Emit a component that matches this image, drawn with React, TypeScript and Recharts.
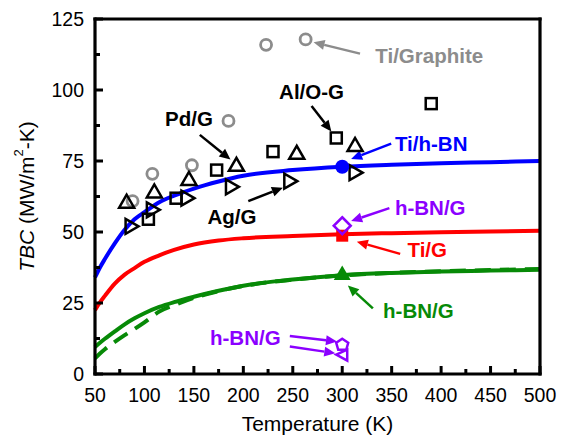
import React from 'react';
import { ComposedChart, Line, Scatter, XAxis, YAxis, ReferenceLine, ReferenceDot } from 'recharts';

const FONT = '"Liberation Sans", Arial, sans-serif';

// temperature grid for the model curves (K)
const temps = [50, 55, 60, 70, 80, 90, 100, 115, 130, 150, 175, 200, 250, 300, 350, 400, 450, 500];
const tiHbnCurve = [34, 37.5, 40.5, 46, 50.8, 54.5, 57, 60.5, 62.8, 65.3, 67.8, 69.8, 71.8, 73, 73.7, 74.2, 74.6, 75];
const tiGCurve = [22.5, 25.2, 27.5, 31.8, 35, 37.3, 39.5, 41.8, 43.7, 45.6, 47, 47.8, 48.6, 49.2, 49.6, 49.9, 50.2, 50.4];
const hbnGCurve = [9.5, 11, 12.4, 15, 17.5, 19.6, 21.4, 23.6, 25.3, 27.2, 29.3, 31.1, 33.3, 34.8, 35.6, 36.1, 36.4, 36.7];
const hbnGDashed = [5.5, 7.2, 8.7, 11.3, 13.7, 15.9, 18.2, 22, 24.2, 26.8, 29.2, 31, 33.2, 34.7, 35.6, 36.2, 36.6, 37];

// measured points
const tiGraphiteT = [88, 108, 148, 185, 223, 263];
const tiGraphiteV = [60.9, 70.5, 73.5, 89.1, 115.9, 117.8];
const alOGT = [104, 132, 173, 230, 294, 390];
const alOGV = [54.5, 61.9, 71.8, 78.3, 83.1, 95.2];
const pdGT = [82, 110, 145, 193, 254, 313];
const pdGV = [60.5, 64.1, 68.5, 73.5, 77.7, 80.5];
const agGT = [86.5, 108, 143, 188, 247, 313];
const agGV = [52, 57.8, 61.9, 65.9, 67.9, 70.9];
const tiHbnPoint = [{ x: 300, y: 73 }];
const tiGPoint = [{ x: 300, y: 48.7 }];
const hbnGPoint = [{ x: 300, y: 35.2 }];
const hbnGDiamond = [{ x: 300, y: 52.2 }];
const hbnGPentagon = [{ x: 300, y: 10.3 }];
const hbnGTriangle = [{ x: 300, y: 6.8 }];

const xTicks = [50, 75, 100, 125, 150, 175, 200, 225, 250, 275, 300, 325, 350, 375, 400, 425, 450, 475, 500];
const yTicks = [0, 12.5, 25, 37.5, 50, 62.5, 75, 87.5, 100, 112.5, 125];

// annotation labels and arrows (data coordinates)
const labels = [
  { x: 388, y: 112.3, text: 'Ti/Graphite', color: '#8c8c8c' },
  { x: 269, y: 99.6, text: 'Al/O-G', color: '#000' },
  { x: 145, y: 90.1, text: 'Pd/G', color: '#000' },
  { x: 188.5, y: 55.6, text: 'Ag/G', color: '#000' },
  { x: 390, y: 81, text: 'Ti/h-BN', color: '#0000ff' },
  { x: 389, y: 58.5, text: 'h-BN/G', color: '#8b00ff' },
  { x: 386, y: 44, text: 'Ti/G', color: '#ff0000' },
  { x: 377, y: 22.5, text: 'h-BN/G', color: '#078a07' },
  { x: 202, y: 12.7, text: 'h-BN/G', color: '#8b00ff' },
];
const arrows = [
  { from: [318, 112.8], to: [271, 116.8], color: '#8c8c8c' },
  { from: [269, 94.4], to: [289, 85.4], color: '#000' },
  { from: [156, 84.2], to: [187, 75.5], color: '#000' },
  { from: [205, 60.9], to: [240, 65.6], color: '#000' },
  { from: [349.5, 81.1], to: [309, 75.7], color: '#0000ff' },
  { from: [347.7, 58.4], to: [309, 53.9], color: '#8b00ff' },
  { from: [358.6, 42.3], to: [314.8, 46.6], color: '#ff0000' },
  { from: [331, 23.1], to: [305.7, 31.2], color: '#078a07' },
  { from: [247, 13.4], to: [294.7, 11.4], color: '#8b00ff' },
  { from: [247, 9.7], to: [293, 7.3], color: '#8b00ff' },
];

const zip = (t: number[], v: number[]) => t.map((x, i) => ({ x, y: v[i] }));
const curve = (v: number[]) => temps.map((x, i) => ({ x, y: v[i] }));

const XTick = ({ x, y, payload, top }: any) => {
  const major = payload.value % 50 === 0;
  const len = major ? 8 : 5;
  return (
    <g>
      <line x1={x} x2={x} y1={y} y2={top ? y + len : y - len} stroke="#000" strokeWidth={3} />
      {!top && major && (
        <text x={x} y={y + 21} textAnchor="middle" dominantBaseline="central" fontSize={19.5} fontFamily={FONT} fill="#000">
          {payload.value}
        </text>
      )}
    </g>
  );
};

const YTick = ({ x, y, payload, right }: any) => {
  const major = payload.value % 25 === 0;
  const len = major ? 8 : 5;
  return (
    <g>
      <line x1={x} x2={right ? x - len : x + len} y1={y} y2={y} stroke="#000" strokeWidth={3} />
      {!right && major && (
        <text x={x - 11} y={y} textAnchor="end" dominantBaseline="central" fontSize={19.5} fontFamily={FONT} fill="#000">
          {payload.value}
        </text>
      )}
    </g>
  );
};

const Arrow = (color: string) => (p: any) => {
  const { x1, y1, x2, y2 } = p;
  const dx = x2 - x1;
  const dy = y2 - y1;
  const len = Math.sqrt(dx * dx + dy * dy);
  const ux = dx / len;
  const uy = dy / len;
  const head = 11;
  const bx = x2 - ux * head;
  const by = y2 - uy * head;
  const w = 5;
  return (
    <g>
      <line x1={x1} y1={y1} x2={bx} y2={by} stroke={color} strokeWidth={2.5} />
      <polygon points={`${x2},${y2} ${bx - uy * w},${by + ux * w} ${bx + uy * w},${by - ux * w}`} fill={color} />
    </g>
  );
};

const Label = (text: string, color: string) => (p: any) => (
  <text x={p.cx} y={p.cy} textAnchor="middle" dominantBaseline="central" fontSize={20.5} fontWeight="bold" fontFamily={FONT} fill={color}>
    {text}
  </text>
);

const OpenCircle = ({ cx, cy }: any) => <circle cx={cx} cy={cy} r={5.5} fill="none" stroke="#8c8c8c" strokeWidth={2.8} />;
const OpenSquare = ({ cx, cy }: any) => <rect x={cx - 5.5} y={cy - 5.5} width={11} height={11} fill="none" stroke="#000" strokeWidth={2.5} />;
const OpenTriUp = ({ cx, cy }: any) => (
  <polygon points={`${cx},${cy - 7.5} ${cx - 7.5},${cy + 5.5} ${cx + 7.5},${cy + 5.5}`} fill="none" stroke="#000" strokeWidth={2.5} strokeLinejoin="miter" />
);
const OpenTriRight = ({ cx, cy }: any) => (
  <polygon points={`${cx + 7.5},${cy} ${cx - 5.5},${cy - 7.5} ${cx - 5.5},${cy + 7.5}`} fill="none" stroke="#000" strokeWidth={2.5} />
);
const BlueDot = ({ cx, cy }: any) => <circle cx={cx} cy={cy} r={7} fill="#0000ff" />;
const RedSquare = ({ cx, cy }: any) => <rect x={cx - 6} y={cy - 6} width={12} height={12} fill="#ff0000" />;
const GreenTri = ({ cx, cy }: any) => (
  <polygon points={`${cx},${cy - 8.5} ${cx - 8.5},${cy + 6} ${cx + 8.5},${cy + 6}`} fill="#078a07" />
);
const PurpleDiamond = ({ cx, cy }: any) => (
  <polygon points={`${cx},${cy - 8.5} ${cx + 8.5},${cy} ${cx},${cy + 8.5} ${cx - 8.5},${cy}`} fill="none" stroke="#8b00ff" strokeWidth={2.5} />
);
const PurplePentagon = ({ cx, cy }: any) => (
  <polygon
    points={`${cx},${cy - 6} ${cx + 6},${cy - 2} ${cx + 4},${cy + 5} ${cx - 4},${cy + 5} ${cx - 6},${cy - 2}`}
    fill="none"
    stroke="#8b00ff"
    strokeWidth={2.5}
  />
);
const PurpleTri = ({ cx, cy }: any) => (
  <polygon points={`${cx - 6},${cy} ${cx + 5},${cy - 5} ${cx + 5},${cy + 6}`} fill="none" stroke="#8b00ff" strokeWidth={2.5} />
);

const frame = { stroke: '#000', strokeWidth: 3.2, strokeLinecap: 'square' as const };

export default function App() {
  return (
    <div style={{ position: 'absolute', left: 0, top: 0, background: '#fff' }}>
      <ComposedChart width={565} height={438} margin={{ top: 18, right: 24, bottom: 63, left: 94 }}>
        <XAxis
          xAxisId={0}
          type="number"
          dataKey="x"
          domain={[50, 500]}
          ticks={xTicks}
          interval={0}
          height={1}
          tickSize={0}
          tickMargin={0}
          axisLine={frame}
          tickLine={false}
          tick={<XTick />}
          label={{
            content: (p: any) => (
              <text x={p.viewBox.x + p.viewBox.width / 2} y={p.viewBox.y + 49} textAnchor="middle" dominantBaseline="central" fontSize={21} fontFamily={FONT} fill="#000">
                Temperature (K)
              </text>
            ),
          }}
        />
        <XAxis xAxisId="top" orientation="top" type="number" domain={[50, 500]} ticks={xTicks} interval={0} height={1} tickSize={0} tickMargin={0} axisLine={frame} tickLine={false} tick={<XTick top />} />
        <YAxis
          yAxisId={0}
          type="number"
          domain={[0, 125]}
          ticks={yTicks}
          interval={0}
          width={1}
          tickSize={0}
          tickMargin={0}
          axisLine={frame}
          tickLine={false}
          tick={<YTick />}
          label={{
            content: (p: any) => {
              const cx = 26;
              const cy = p.viewBox.y + p.viewBox.height / 2;
              return (
                <text transform={`rotate(-90, ${cx}, ${cy})`} x={cx} y={cy} textAnchor="middle" dominantBaseline="central" fontSize={21} fontFamily={FONT} fill="#000">
                  <tspan fontStyle="italic">TBC</tspan> (MW/m<tspan dy={-8} fontSize={13}>2</tspan>
                  <tspan dy={8}>-K)</tspan>
                </text>
              );
            },
          }}
        />
        <YAxis yAxisId="right" orientation="right" type="number" domain={[0, 125]} ticks={yTicks} interval={0} width={1} tickSize={0} tickMargin={0} axisLine={frame} tickLine={false} tick={<YTick right />} />

        <Line data={curve(tiHbnCurve)} dataKey="y" type="monotone" stroke="#0000ff" strokeWidth={4} dot={false} isAnimationActive={false} />
        <Line data={curve(tiGCurve)} dataKey="y" type="monotone" stroke="#ff0000" strokeWidth={4} dot={false} isAnimationActive={false} />
        <Line data={curve(hbnGDashed)} dataKey="y" type="monotone" stroke="#078a07" strokeWidth={4} strokeDasharray="16 9" dot={false} isAnimationActive={false} />
        <Line data={curve(hbnGCurve)} dataKey="y" type="monotone" stroke="#078a07" strokeWidth={4} dot={false} isAnimationActive={false} />

        <Scatter data={zip(tiGraphiteT, tiGraphiteV)} dataKey="y" shape={OpenCircle} isAnimationActive={false} />
        <Scatter data={zip(alOGT, alOGV)} dataKey="y" shape={OpenSquare} isAnimationActive={false} />
        <Scatter data={zip(pdGT, pdGV)} dataKey="y" shape={OpenTriUp} isAnimationActive={false} />
        <Scatter data={zip(agGT, agGV)} dataKey="y" shape={OpenTriRight} isAnimationActive={false} />
        <Scatter data={tiHbnPoint} dataKey="y" shape={BlueDot} isAnimationActive={false} />
        <Scatter data={tiGPoint} dataKey="y" shape={RedSquare} isAnimationActive={false} />
        <Scatter data={hbnGPoint} dataKey="y" shape={GreenTri} isAnimationActive={false} />
        <Scatter data={hbnGDiamond} dataKey="y" shape={PurpleDiamond} isAnimationActive={false} />
        <Scatter data={hbnGPentagon} dataKey="y" shape={PurplePentagon} isAnimationActive={false} />
        <Scatter data={hbnGTriangle} dataKey="y" shape={PurpleTri} isAnimationActive={false} />

        {arrows.map((a, i) => (
          <ReferenceLine
            key={`a${i}`}
            segment={[{ x: a.from[0], y: a.from[1] }, { x: a.to[0], y: a.to[1] }]}
            shape={Arrow(a.color)}
          />
        ))}
        {labels.map((l, i) => (
          <ReferenceDot key={`l${i}`} x={l.x} y={l.y} r={0} shape={Label(l.text, l.color)} />
        ))}
      </ComposedChart>
    </div>
  );
}
